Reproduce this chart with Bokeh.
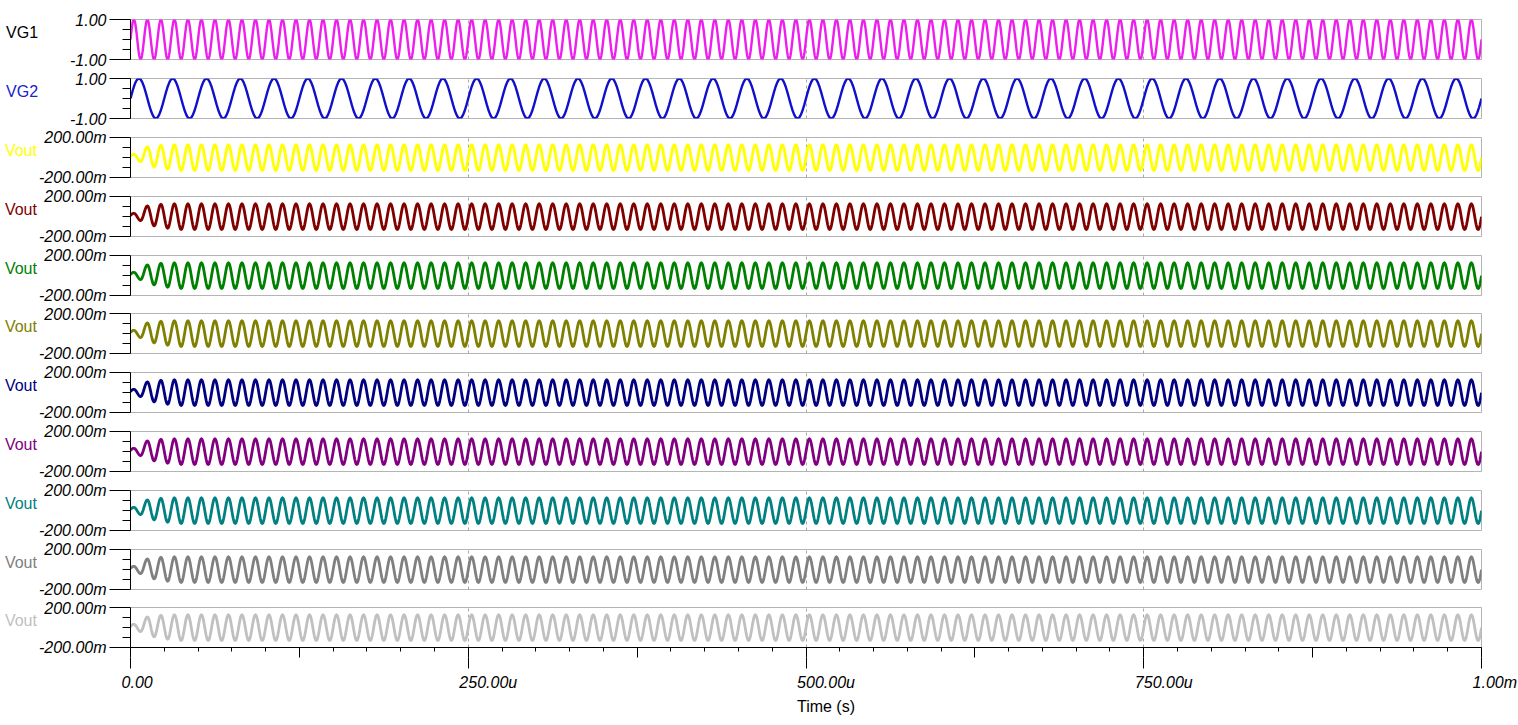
import numpy as np
from bokeh.plotting import figure
from bokeh.layouts import column
from bokeh.models import FixedTicker, LinearAxis, Grid, Range1d
from bokeh.embed import file_html
from bokeh.resources import INLINE

# ---------------- data ----------------
T_END = 1e-3                       # seconds, full time span
x_major_ticks = [0.0, 250e-6, 500e-6, 750e-6, 1e-3]
x_major_labels = ["0.00", "250.00u", "500.00u", "750.00u", "1.00m"]
x_mid_ticks = [0.0, 125e-6, 250e-6, 375e-6, 500e-6, 625e-6, 750e-6, 875e-6, 1e-3]
x_minor_ticks = [k * 25e-6 for k in range(41)]
grid_ticks = [250e-6, 500e-6, 750e-6]
x_title = "Time (s)"

# source signals
vg_names = ["VG1", "VG2"]
vg_freqs = [100e3, 40e3]           # Hz
vg_peaks = [1.0, 1.0]              # V
vg_colors = ["#EE1EEE", "#1010CC"]
vg_label_colors = ["#000000", "#2020CC"]
vg_ticks = [-1.0, 1.0]
vg_tick_labels = ["-1.00", "1.00"]
vg_minor = [-0.5, 0.0, 0.5]

# output traces (9 runs)
vout_names = ["Vout"] * 9
vout_colors = ["#FFFF00", "#800000", "#008000", "#808000", "#000080",
               "#800080", "#008080", "#808080", "#C0C0C0"]
vout_freq = 100e3
vout_start = 0.01                                  # V at t = 0
vout_transient = [0.032, -0.041, 0.106, -0.094,    # first half-cycle extrema (V)
                  0.122, -0.118, 0.127, -0.131]
vout_steady = [0.127, -0.131]                      # steady peak / trough (V)
vout_end = -0.002
vout_ticks = [-0.2, 0.2]
vout_tick_labels = ["-200.00m", "200.00m"]
vout_minor = [-0.1, 0.0, 0.1]

FONT = "Liberation Sans"
NBSP = "\u00a0"


def build(freq, v0, extrema, v_end, n=10):
    """Join read extrema (one per half period) with sinusoidal arcs."""
    q = 0.25 / freq
    t_ext = q + np.arange(len(extrema)) * 2 * q
    s = np.linspace(0, 1, n + 1)[1:]
    ts = [np.array([0.0]), s * q]
    vs = [np.array([v0]), v0 + (extrema[0] - v0) * np.sin(np.pi / 2 * s)]
    for k in range(1, len(extrema)):
        a, b = extrema[k - 1], extrema[k]
        ts.append(t_ext[k - 1] + s * 2 * q)
        vs.append(a + (b - a) * (1 - np.cos(np.pi * s)) / 2)
    ts.append(t_ext[-1] + s * q)
    vs.append(v_end + (extrema[-1] - v_end) * np.cos(np.pi / 2 * s))
    return np.concatenate(ts), np.concatenate(vs)


# layout: (top border, bottom border) per panel; frame height is 40 px
tops = [19, 9, 9, 9, 9, 8, 9, 9, 9, 9, 8]
bottoms = [10] * 10 + [78]
x_label_pad = [3, 9, 9, 9, 6]      # shifts the tick labels right of their ticks

panels = []
specs = []
for i in range(2):
    n_half = int(round(2 * vg_freqs[i] * T_END))
    ext = [vg_peaks[i], -vg_peaks[i]] * (n_half // 2)
    t, v = build(vg_freqs[i], 0.0, ext, 0.0)
    specs.append(dict(name=vg_names[i], color=vg_colors[i], lcolor=vg_label_colors[i],
                      t=t, v=v, yr=(-1.0, 1.0), ticks=vg_ticks, labels=vg_tick_labels,
                      minor=vg_minor, lw=2.4, lstand=29))
n_half_out = int(round(2 * vout_freq * T_END))
ext_out = list(vout_transient) + vout_steady * ((n_half_out - len(vout_transient)) // 2)
for j in range(9):
    t, v = build(vout_freq, vout_start, ext_out, vout_end)
    specs.append(dict(name=vout_names[j], color=vout_colors[j], lcolor=vout_colors[j],
                      t=t, v=v, yr=(-0.2, 0.2), ticks=vout_ticks, labels=vout_tick_labels,
                      minor=vout_minor, lw=2.8, lstand=-1))

for i, sp in enumerate(specs):
    last = i == len(specs) - 1
    h = tops[i] + 40 + bottoms[i]
    p = figure(width=1518, height=h, x_range=Range1d(0, T_END), y_range=Range1d(*sp["yr"]),
               output_backend="svg", toolbar_location=None,
               x_axis_location="below" if last else None, y_axis_location="left",
               min_border_left=130, min_border_right=37,
               min_border_top=tops[i], min_border_bottom=bottoms[i])
    p.background_fill_color = "white"
    p.border_fill_color = "white"
    p.outline_line_color = "#B4B4B4"
    p.outline_line_width = 1
    p.xgrid.visible = False
    p.ygrid.visible = False
    g = Grid(dimension=0, ticker=FixedTicker(ticks=grid_ticks),
             grid_line_color="#A8A8A8", grid_line_dash="3 3", grid_line_width=1)
    p.add_layout(g, "center")

    ya = p.yaxis[0]
    ya.ticker = FixedTicker(ticks=sp["ticks"], minor_ticks=sp["minor"])
    ya.major_label_overrides = {tk: lb for tk, lb in zip(sp["ticks"], sp["labels"])}
    ya.major_tick_out = 21
    ya.major_tick_in = 0
    ya.minor_tick_out = 8
    ya.minor_tick_in = 0
    ya.axis_line_color = "black"
    ya.major_tick_line_color = "black"
    ya.minor_tick_line_color = "black"
    ya.major_label_standoff = 3
    ya.major_label_text_font = FONT
    ya.major_label_text_font_size = "16px"
    ya.major_label_text_font_style = "italic"
    ya.major_label_text_color = "black"
    # series name, shown at the far left like the original
    ya.axis_label = sp["name"] + "\n"
    ya.axis_label_orientation = "horizontal"
    ya.axis_label_standoff = sp["lstand"]
    ya.axis_label_text_font = FONT
    ya.axis_label_text_font_size = "16px"
    ya.axis_label_text_font_style = "normal"
    ya.axis_label_text_color = sp["lcolor"]
    ya.axis_label_text_line_height = 0.8

    p.line(sp["t"], sp["v"], line_color=sp["color"], line_width=sp["lw"], line_join="round")

    if last:
        xa = p.xaxis[0]
        xa.ticker = FixedTicker(ticks=x_mid_ticks, minor_ticks=x_minor_ticks)
        xa.major_tick_out = 10
        xa.major_tick_in = 0
        xa.minor_tick_out = 4
        xa.minor_tick_in = 0
        xa.axis_line_color = "black"
        xa.major_tick_line_color = "black"
        xa.minor_tick_line_color = "black"
        xa.major_label_overrides = {tk: "" for tk in x_mid_ticks}
        xa.major_label_text_font_size = "0px"
        xa.major_label_standoff = 0

        xb = LinearAxis(ticker=FixedTicker(ticks=x_major_ticks, minor_ticks=[]))
        xb.major_label_overrides = {tk: NBSP * n + lb for tk, lb, n
                                    in zip(x_major_ticks, x_major_labels, x_label_pad)}
        xb.axis_line_color = None
        xb.major_tick_out = 11
        xb.major_tick_in = 0
        xb.minor_tick_out = 0
        xb.minor_tick_in = 0
        xb.major_tick_line_color = "black"
        xb.major_label_standoff = 5
        xb.major_label_text_font = FONT
        xb.major_label_text_font_size = "16px"
        xb.major_label_text_font_style = "italic"
        xb.major_label_text_color = "black"
        xb.axis_label = NBSP * 9 + x_title
        xb.axis_label_standoff = 4
        xb.axis_label_text_font = FONT
        xb.axis_label_text_font_size = "16px"
        xb.axis_label_text_font_style = "normal"
        xb.axis_label_text_color = "black"
        p.add_layout(xb, "below")
    panels.append(p)

layout = column(*panels, spacing=0)
open("out.html", "w").write(file_html(layout, INLINE))
